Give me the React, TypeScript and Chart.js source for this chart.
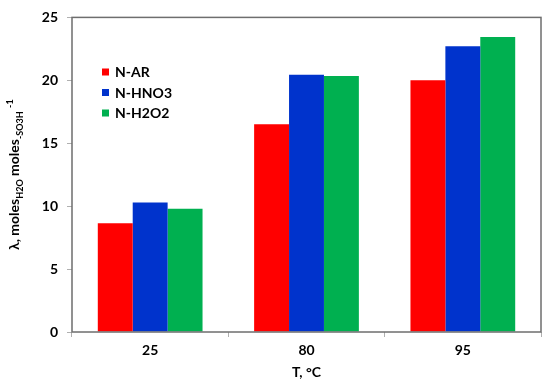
import React, { useEffect, useRef } from "react";
import { Chart, registerables } from "chart.js";

Chart.register(...registerables);

const categories = ["25", "80", "95"];
const seriesNames = ["N-AR", "N-HNO3", "N-H2O2"];
const nAR = [8.65, 16.5, 20.0];
const nHNO3 = [10.3, 20.45, 22.7];
const nH2O2 = [9.8, 20.35, 23.45];
const seriesColors = ["#FF0000", "#0033CC", "#00B050"];
const yTicks = [0, 5, 10, 15, 20, 25];

const FONT = "Lato, 'DejaVu Sans', sans-serif";

const decorPlugin = {
  id: "decor",
  afterDatasetsDraw(chart: any) {
    const ctx = chart.ctx;
    const a = chart.chartArea;
    ctx.save();
    // plot border
    ctx.strokeStyle = "#6e6e6e";
    ctx.lineWidth = 1.5;
    ctx.strokeRect(a.left, a.top, a.right - a.left, a.bottom - a.top);

    // legend
    const lx = 102;
    const ly = 72;
    const gap = 20.5;
    ctx.font = "bold 14px " + FONT;
    ctx.textBaseline = "middle";
    ctx.textAlign = "left";
    chart.data.datasets.forEach((ds: any, i: number) => {
      const y = ly + i * gap;
      ctx.fillStyle = ds.backgroundColor;
      ctx.fillRect(lx, y - 3.5, 7, 7);
      ctx.fillStyle = "#000";
      ctx.fillText(ds.label, lx + 13, y + 0.5);
    });

    // y-axis title with sub/superscripts
    const big = "bold 14px " + FONT;
    const small = "bold 9px " + FONT;
    const segs: [string, string, number][] = [
      ["λ, moles", big, 0],
      ["H2O", small, 4],
      [" moles", big, 0],
      ["-SO3H", small, 4],
      [" ", big, 0],
      ["-1", small, -6],
    ];
    let total = 0;
    segs.forEach(([t, f]) => {
      ctx.font = f;
      total += ctx.measureText(t).width;
    });
    const cx = 14;
    const cy = (a.top + a.bottom) / 2;
    ctx.translate(cx, cy);
    ctx.rotate(-Math.PI / 2);
    ctx.textBaseline = "alphabetic";
    let x = -total / 2;
    segs.forEach(([t, f, dy]) => {
      ctx.font = f;
      ctx.fillStyle = "#000";
      ctx.fillText(t, x, 5 + dy);
      x += ctx.measureText(t).width;
    });
    ctx.restore();
  },
};

export default function App() {
  const ref = useRef<HTMLCanvasElement>(null);
  useEffect(() => {
    document.body.style.margin = "0";
    const values = [nAR, nHNO3, nH2O2];
    const chart = new Chart(ref.current!, {
      type: "bar",
      data: {
        labels: categories,
        datasets: seriesNames.map((n, i) => ({
          label: n,
          data: values[i],
          backgroundColor: seriesColors[i],
          borderWidth: 0,
          categoryPercentage: 0.67,
          barPercentage: 1,
        })),
      },
      options: {
        animation: false,
        responsive: false,
        devicePixelRatio: 1,
        layout: { padding: { top: 13, right: 9, left: 0, bottom: 0 } },
        plugins: { legend: { display: false }, tooltip: { enabled: false } },
        scales: {
          x: {
            offset: true,
            grid: {
              offset: true,
              drawOnChartArea: false,
              drawTicks: true,
              tickLength: 5,
              color: "#b0b0b0",
            },
            border: { display: false },
            ticks: {
              color: "#000",
              font: { family: FONT, size: 14, weight: "bold" },
              padding: 5,
            },
            title: {
              display: true,
              text: "T, °C",
              color: "#000",
              font: { family: FONT, size: 14, weight: "bold" },
              padding: { top: -2, bottom: 0 },
            },
            afterFit(scale: any) {
              scale.height = 49;
            },
          },
          y: {
            min: 0,
            max: 25,
            afterBuildTicks(scale: any) {
              scale.ticks = yTicks.map((v) => ({ value: v }));
            },
            grid: {
              drawOnChartArea: false,
              drawTicks: true,
              tickLength: 5,
              color: "#b0b0b0",
            },
            border: { display: false },
            ticks: {
              color: "#000",
              font: { family: FONT, size: 14, weight: "bold" },
              padding: 9,
            },
            afterFit(scale: any) {
              scale.width = 72;
            },
          },
        },
      },
      plugins: [decorPlugin],
    } as any);
    return () => chart.destroy();
  }, []);
  return <canvas ref={ref} width={550} height={381} style={{ display: "block" }} />;
}
